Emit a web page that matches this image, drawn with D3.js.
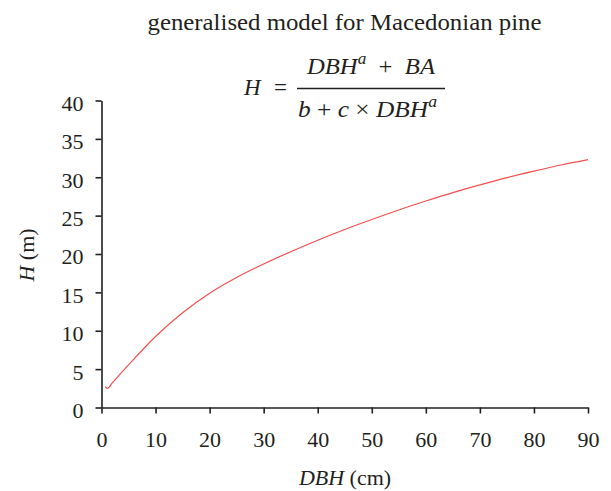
<!DOCTYPE html>
<html>
<head>
<meta charset="utf-8">
<script src="https://cdn.jsdelivr.net/npm/d3@7"></script>
<style>
  html, body { margin: 0; padding: 0; background: #fff; }
  svg text { font-family: "Liberation Serif", "DejaVu Serif", serif; fill: #231f20; }
</style>
</head>
<body>
<svg id="chart" width="611" height="491"></svg>
<script>
// Height–diameter curve for Macedonian pine (generalised model)
const dbh = [0.7, 1.1, 2, 3, 5, 10, 15, 20, 25, 30, 35, 40, 45, 50, 55, 60, 65, 70, 75, 80, 85, 90];
const height = [2.7, 2.5, 3.2, 4.0, 5.55, 9.25, 12.35, 14.9, 16.95, 18.7, 20.3, 21.8, 23.2, 24.5, 25.74, 26.9, 28.0, 29.0, 29.95, 30.8, 31.6, 32.3];
const xTicks = [0, 10, 20, 30, 40, 50, 60, 70, 80, 90];
const yTicks = [0, 5, 10, 15, 20, 25, 30, 35, 40];

const svg = d3.select("#chart");
const margin = { left: 101.5, right: 23, top: 100.5, bottom: 83.5 };
const W = 611, H = 491;

const x = d3.scaleLinear().domain([0, 90]).range([margin.left, W - margin.right]);
const y = d3.scaleLinear().domain([0, 40]).range([H - margin.bottom, margin.top]);

const axisColor = "#231f20";

// x axis
const gx = svg.append("g")
  .attr("transform", `translate(0,${y(0)})`)
  .call(d3.axisBottom(x).tickValues(xTicks).tickSize(6).tickPadding(18).tickSizeOuter(0));
// y axis
const gy = svg.append("g")
  .attr("transform", `translate(${x(0)},0)`)
  .call(d3.axisLeft(y).tickValues(yTicks).tickSize(6).tickPadding(12).tickSizeOuter(0));

[gx, gy].forEach(g => {
  g.select(".domain").attr("stroke", axisColor).attr("stroke-width", 1.6);
  g.selectAll(".tick line").attr("stroke", axisColor).attr("stroke-width", 1.6);
  g.selectAll(".tick text").attr("font-size", 22).attr("font-family", "Liberation Serif, serif").attr("fill", axisColor);
});
gy.selectAll(".tick text").attr("dy", "0.45em");

// curve
const line = d3.line()
  .x((d, i) => x(dbh[i]))
  .y(d => y(d))
  .curve(d3.curveMonotoneX);

svg.append("path")
  .datum(height)
  .attr("d", line)
  .attr("fill", "none")
  .attr("stroke", "#f0504f")
  .attr("stroke-width", 1.2);

// title
svg.append("text")
  .attr("x", 344.5).attr("y", 30)
  .attr("text-anchor", "middle")
  .attr("font-size", 22.5)
  .attr("textLength", 394)
  .attr("lengthAdjust", "spacingAndGlyphs")
  .text("generalised model for Macedonian pine");

// model formula
const f = svg.append("g");
f.append("text").attr("x", 244).attr("y", 95).attr("font-size", 23).attr("font-style", "italic").text("H");
f.append("text").attr("x", 274).attr("y", 95).attr("font-size", 23).text("=");
f.append("line")
  .attr("x1", 297).attr("x2", 445).attr("y1", 88.5).attr("y2", 88.5)
  .attr("stroke", axisColor).attr("stroke-width", 1.4);

const num = f.append("text").attr("x", 307).attr("y", 74).attr("font-size", 23)
  .attr("textLength", 128).attr("lengthAdjust", "spacingAndGlyphs");
num.append("tspan").attr("font-style", "italic").text("DBH");
num.append("tspan").attr("font-style", "italic").attr("font-size", 16).attr("dy", -10).text("a");
num.append("tspan").attr("dy", 10).text("\u2002+\u2002");
num.append("tspan").attr("font-style", "italic").text("BA");

const den = f.append("text").attr("x", 298).attr("y", 117).attr("font-size", 23)
  .attr("textLength", 139).attr("lengthAdjust", "spacingAndGlyphs");
den.append("tspan").attr("font-style", "italic").text("b");
den.append("tspan").text(" + ");
den.append("tspan").attr("font-style", "italic").text("c");
den.append("tspan").text(" \u00d7 ");
den.append("tspan").attr("font-style", "italic").text("DBH");
den.append("tspan").attr("font-style", "italic").attr("font-size", 16).attr("dy", -10).text("a");

// axis titles
const xl = svg.append("text")
  .attr("x", 345).attr("y", 485).attr("text-anchor", "middle").attr("font-size", 22);
xl.append("tspan").attr("font-style", "italic").text("DBH");
xl.append("tspan").text(" (cm)");

const yl = svg.append("text")
  .attr("transform", "translate(34,255) rotate(-90)")
  .attr("text-anchor", "middle").attr("font-size", 22);
yl.append("tspan").attr("font-style", "italic").text("H");
yl.append("tspan").text(" (m)");
</script>
</body>
</html>
